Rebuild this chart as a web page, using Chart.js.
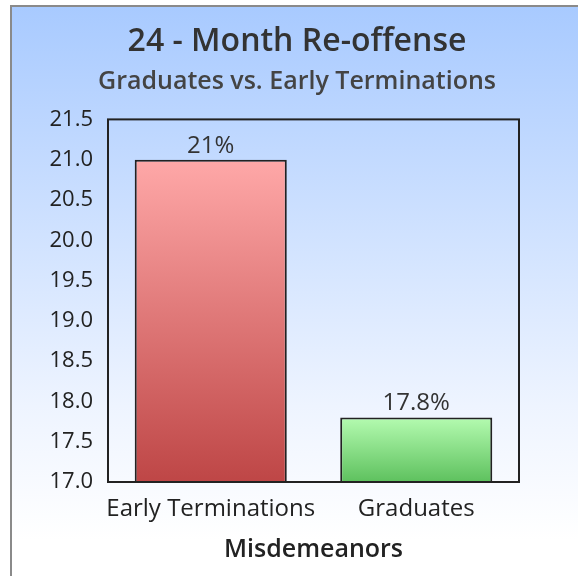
<!DOCTYPE html>
<html lang="en">
<head>
  <meta charset="utf-8"/>
  <title>24 - Month Re-offense</title>

  <!-- Chart.js -->
  <script src="https://cdn.jsdelivr.net/npm/chart.js"></script>

  <style>
    html, body { margin: 0; padding: 0; background: #fff; }
    canvas { display: block; }
  </style>
</head>
<body>
  <canvas id="reoffenseChart" width="578" height="576"></canvas>

  <script>
  // ── DATA ─────────────────────────────────────────
  const categories = ['Early Terminations', 'Graduates'];
  const rates      = [21, 17.8];
  const rateLabels = ['21%', '17.8%'];
  const yMin = 17.0, yMax = 21.5, yStep = 0.5;
  const barTop     = ['#ffa8a8', '#b4fbb0'];
  const barBottom  = ['#be4646', '#5ec15e'];
  // ────────────────────────────────────────────────

  const FONT = "'Open Sans', 'DejaVu Sans', sans-serif";

  // panel background + grey frame on left/top
  const panelBg = {
    id: 'panelBg',
    beforeDraw(chart) {
      const { ctx, width, height } = chart;
      ctx.save();
      ctx.fillStyle = '#ffffff';
      ctx.fillRect(0, 0, width, height);
      const g = ctx.createLinearGradient(0, 6, 0, 540);
      g.addColorStop(0, '#a8caff');
      g.addColorStop(0.75, '#eef4ff');
      g.addColorStop(1, '#ffffff');
      ctx.fillStyle = g;
      ctx.fillRect(12, 7, width - 12, height - 7);
      ctx.fillStyle = '#8a8a8a';
      ctx.fillRect(10, 5, 2, height - 5);
      ctx.fillRect(10, 5, width - 10, 2);
      ctx.restore();
    }
  };

  // black frame round the plot + value labels over bars
  const plotFrame = {
    id: 'plotFrame',
    afterDatasetsDraw(chart) {
      const { ctx, chartArea: a } = chart;
      ctx.save();
      ctx.strokeStyle = '#222';
      ctx.lineWidth = 2;
      ctx.strokeRect(a.left, a.top, a.right - a.left, a.bottom - a.top);

      ctx.fillStyle = '#333';
      ctx.font = '24px ' + FONT;
      ctx.textAlign = 'center';
      ctx.textBaseline = 'middle';
      chart.getDatasetMeta(0).data.forEach((bar, i) => {
        ctx.fillText(rateLabels[i], bar.x, bar.y - 14);
      });
      ctx.restore();
    }
  };

  function barGradient(c) {
    const chart = c.chart;
    const a = chart.chartArea;
    if (!a) return barTop[c.dataIndex];
    const top = chart.scales.y.getPixelForValue(rates[c.dataIndex]);
    const g = chart.ctx.createLinearGradient(0, top, 0, a.bottom);
    g.addColorStop(0, barTop[c.dataIndex]);
    g.addColorStop(1, barBottom[c.dataIndex]);
    return g;
  }

  const ctx = document.getElementById('reoffenseChart').getContext('2d');
  new Chart(ctx, {
    type: 'bar',
    data: {
      labels: categories,
      datasets: [{
        data: rates,
        backgroundColor: barGradient,
        borderColor: '#222',
        borderWidth: 2,
        borderSkipped: false,
        barPercentage: 0.74,
        categoryPercentage: 1
      }]
    },
    options: {
      responsive: false,
      animation: false,
      layout: { padding: { left: 16, right: 0, top: 0, bottom: 0 } },
      plugins: {
        legend: { display: false },
        tooltip: { enabled: false },
        title: {
          display: true,
          text: '24 - Month Re-offense',
          color: '#333',
          font: { family: FONT, size: 32, weight: '600' },
          padding: { top: 23, bottom: 3 }
        },
        subtitle: {
          display: true,
          text: 'Graduates vs. Early Terminations',
          color: '#444',
          font: { family: FONT, size: 25, weight: '600' },
          padding: { top: 2, bottom: 23 }
        }
      },
      scales: {
        x: {
          grid: { display: false, drawTicks: false },
          border: { display: false },
          ticks: {
            color: '#222',
            font: { family: FONT, size: 24 },
            padding: 13,
            minRotation: 0,
            maxRotation: 0,
            autoSkip: false
          },
          title: {
            display: true,
            text: 'Misdemeanors',
            color: '#222',
            font: { family: FONT, size: 25, weight: '600' },
            padding: { top: 0, bottom: 11 }
          },
          afterFit(s) { s.height = 94; s.paddingLeft = 0; s.paddingRight = 0; }
        },
        y: {
          min: yMin,
          max: yMax,
          grid: { display: false, drawTicks: false },
          border: { display: false },
          ticks: {
            stepSize: yStep,
            color: '#222',
            font: { family: FONT, size: 22 },
            padding: 15,
            callback: v => v.toFixed(1)
          },
          afterFit(s) { s.width = 92; }
        },
        // empty right-hand box: keeps the plot's right edge where the original has it
        yRight: {
          position: 'right',
          min: yMin,
          max: yMax,
          grid: { display: false, drawTicks: false },
          border: { display: false },
          ticks: { display: false },
          afterFit(s) { s.width = 59; }
        }
      }
    },
    plugins: [panelBg, plotFrame]
  });
  </script>
</body>
</html>
